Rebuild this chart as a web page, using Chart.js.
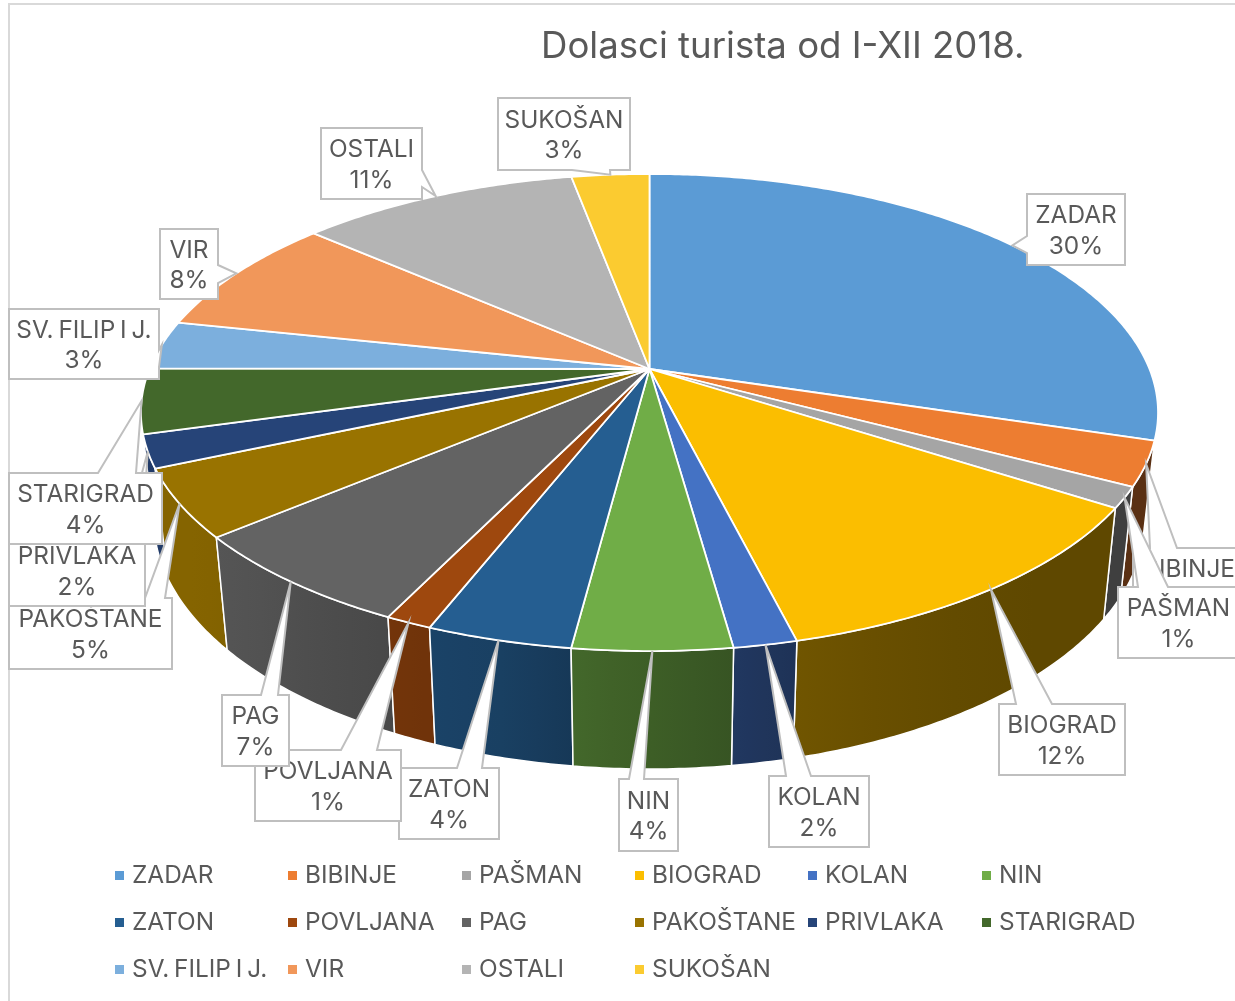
<!DOCTYPE html>
<html><head><meta charset="utf-8">
<style>html,body{margin:0;padding:0;background:#fff;overflow:hidden}canvas{display:block}</style>
<script src="https://cdn.jsdelivr.net/npm/chart.js@4"></script>
</head><body><canvas id="c" width="1235" height="1001"></canvas>
<script>
const titleText = 'Dolasci turista od I-XII 2018.';
const categories = ['ZADAR','BIBINJE','PAŠMAN','BIOGRAD','KOLAN','NIN','ZATON','POVLJANA','PAG','PAKOŠTANE','PRIVLAKA','STARIGRAD','SV. FILIP I J.','VIR','OSTALI','SUKOŠAN'];
const values = [29.75,3.0,1.4,11.95,1.7,4.25,3.9,1.25,6.65,4.6,2.2,4.4,3.3,8.1,10.6,2.95];
const colors = ['#5B9BD5','#ED7D31','#A5A5A5','#FBBE00','#4472C4','#70AD47','#255E91','#9E480E','#636363','#997300','#264478','#43682B','#7CAFDD','#F1975A','#B4B4B4','#FBCB30'];
// callout boxes: left, top, right, bottom, side carrying the pointer, pointer base start/end
const calloutBoxes = [
 [1027,194,1125,265,'left',236,253],
 [1133,548,1245,619,'top',1150,1177],
 [1118,587,1239,658,'top',1138,1168],
 [999,704,1125,775,'top',1016,1052],
 [769,776,869,847,'top',786,811],
 [619,779,678,851,'top',629,644],
 [399,768,499,839,'top',457,482],
 [255,750,401,821,'top',341,377],
 [222,695,289,766,'top',261,278],
 [9,598,172,669,'top',145,165],
 [9,535,145,606,'top',125,142],
 [9,473,162,544,'top',98,136],
 [9,309,159,379,'right',350,367],
 [160,229,218,299,'right',265,283],
 [321,128,422,199,'right',170,187],
 [498,98,630,170,'bottom',572,610]
];
const legendColumns = [115,288,462,635,808,982];
const legendRows = [875,922,969];
const shadeStops = [[200,.87],[400,.72],[500,.68],[580,.59],[730,.49],[800,.44],[1000,.38]];
const FONT = 'Inter, sans-serif';
const TEXT = '#595959';
// perspective of the disc
const P = {cx:649.5, cy:369, A:500, B:230.6, k:0.1824, s:0.975};
function project(a){
  const t = a + Math.PI/2, x = Math.sin(t), y = Math.cos(t), w = 1 + P.k*y;
  return [P.cx + P.A*x/w, P.cy - P.B*y/w];
}
function lower(p){
  return [P.cx + P.s*(p[0]-P.cx), p[1] + 111 + (p[1]-507)*7/144];
}
function shade(hex, x){
  let f = shadeStops[shadeStops.length-1][1];
  if(x<=shadeStops[0][0]) f = shadeStops[0][1];
  else for(let i=1;i<shadeStops.length;i++){
    const [x0,f0]=shadeStops[i-1],[x1,f1]=shadeStops[i];
    if(x<=x1){f=f0+(f1-f0)*(x-x0)/(x1-x0);break;}
  }
  const n = parseInt(hex.slice(1),16);
  return `rgb(${Math.round((n>>16)*f)},${Math.round(((n>>8)&255)*f)},${Math.round((n&255)*f)})`;
}
function arcPoints(s,e){
  const n = Math.max(2, Math.ceil((e-s)/0.01)), pts=[];
  for(let i=0;i<=n;i++) pts.push(project(s+(e-s)*i/n));
  return pts;
}
const Arc = Chart.ArcElement || Chart.elements.ArcElement;
Arc.prototype.draw = function(ctx){
  const pts = arcPoints(this.startAngle,this.endAngle);
  ctx.save();
  ctx.beginPath(); ctx.moveTo(P.cx,P.cy);
  pts.forEach(p=>ctx.lineTo(p[0],p[1]));
  ctx.closePath();
  ctx.fillStyle = this.options.backgroundColor; ctx.fill();
  ctx.lineJoin='round'; ctx.strokeStyle='#fff'; ctx.lineWidth=1.8; ctx.stroke();
  ctx.restore();
};
const scene = {
  id:'scene',
  beforeDatasetsDraw(chart){
    const ctx = chart.ctx, arcs = chart.getDatasetMeta(0).data;
    ctx.save();
    ctx.strokeStyle='#D9D9D9'; ctx.lineWidth=2;
    ctx.beginPath(); ctx.moveTo(1240,4); ctx.lineTo(9,4); ctx.lineTo(9,1005); ctx.stroke();
    const walls = arcs.map((a,i)=>{
      const top = arcPoints(a.startAngle,a.endAngle), bot = top.map(lower);
      return {i,top,bot,z:bot[Math.floor(bot.length/2)][1]};
    }).sort((p,q)=>p.z-q.z);
    walls.forEach(w=>{
      const xs = w.top.concat(w.bot).map(p=>p[0]), x0=Math.min(...xs), x1=Math.max(...xs);
      const g = ctx.createLinearGradient(x0,0,x1,0);
      for(let t=0;t<=4;t++) g.addColorStop(t/4, shade(colors[w.i], x0+(x1-x0)*t/4));
      ctx.beginPath();
      w.top.forEach((p,j)=>j?ctx.lineTo(p[0],p[1]):ctx.moveTo(p[0],p[1]));
      w.bot.slice().reverse().forEach(p=>ctx.lineTo(p[0],p[1]));
      ctx.closePath();
      ctx.fillStyle=g; ctx.fill();
      ctx.strokeStyle='#fff'; ctx.lineWidth=1.5; ctx.lineJoin='round'; ctx.stroke();
    });
    ctx.restore();
  },
  afterDatasetsDraw(chart){
    const ctx = chart.ctx, arcs = chart.getDatasetMeta(0).data;
    const total = values.reduce((a,b)=>a+b,0);
    ctx.save();
    ctx.fillStyle=TEXT; ctx.textAlign='left'; ctx.textBaseline='middle';
    ctx.font='400 36.6px '+FONT;
    ctx.fillText(titleText,541,47);
    ctx.wordSpacing='-2px';
    categories.forEach((name,i)=>{
      const a = arcs[i], tip = project((a.startAngle+a.endAngle)/2);
      const [l,t,r,b,side,u,v] = calloutBoxes[i];
      ctx.beginPath(); ctx.moveTo(l,t);
      if(side==='top'){ctx.lineTo(u,t);ctx.lineTo(tip[0],tip[1]);ctx.lineTo(v,t);}
      ctx.lineTo(r,t);
      if(side==='right'){ctx.lineTo(r,u);ctx.lineTo(tip[0],tip[1]);ctx.lineTo(r,v);}
      ctx.lineTo(r,b);
      if(side==='bottom'){ctx.lineTo(v,b);ctx.lineTo(tip[0],tip[1]);ctx.lineTo(u,b);}
      ctx.lineTo(l,b);
      if(side==='left'){ctx.lineTo(l,v);ctx.lineTo(tip[0],tip[1]);ctx.lineTo(l,u);}
      ctx.closePath();
      ctx.fillStyle='#fff'; ctx.fill();
      ctx.strokeStyle='#BFBFBF'; ctx.lineWidth=2; ctx.lineJoin='miter'; ctx.stroke();
      ctx.fillStyle=TEXT; ctx.textAlign='center'; ctx.font='400 24.4px '+FONT;
      const mx=(l+r)/2, my=(t+b)/2;
      ctx.fillText(name,mx,my-13.5);
      ctx.fillText(Math.round(values[i]/total*100)+'%',mx,my+17);
    });
    ctx.textAlign='left'; ctx.font='400 24.4px '+FONT;
    categories.forEach((name,i)=>{
      const cx=legendColumns[i%6], cy=legendRows[Math.floor(i/6)];
      ctx.fillStyle=colors[i]; ctx.fillRect(cx,cy-4,9,9);
      ctx.fillStyle=TEXT; ctx.fillText(name,cx+17,cy+1);
    });
    ctx.restore();
  }
};
new Chart(document.getElementById('c'),{
  type:'pie',
  data:{labels:categories,datasets:[{data:values,backgroundColor:colors,borderColor:'#fff',borderWidth:2}]},
  options:{responsive:false,animation:false,events:[],plugins:{legend:{display:false},tooltip:{enabled:false}}},
  plugins:[scene]
});
</script></body></html>
